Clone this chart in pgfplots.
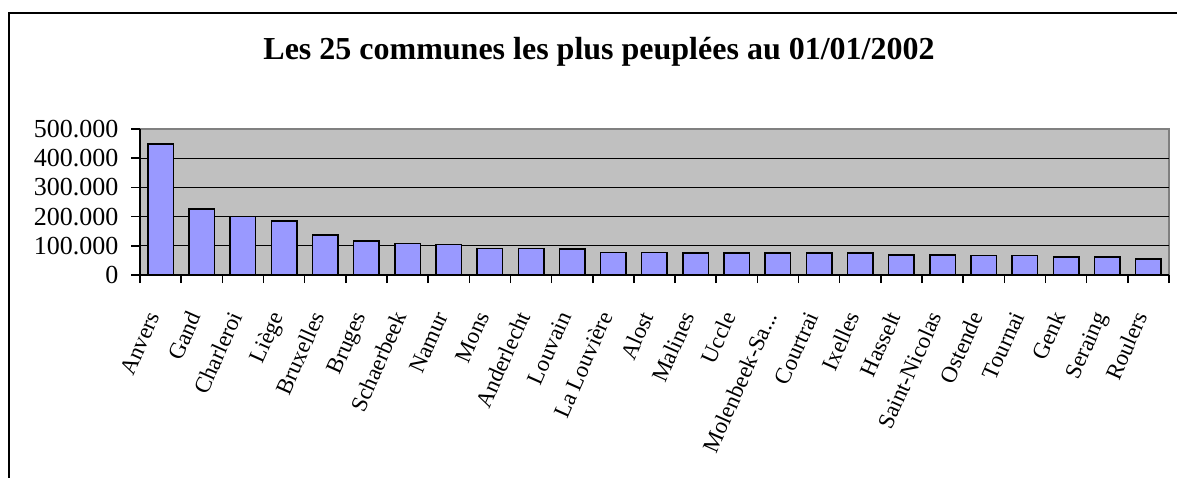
\documentclass[border=0pt]{standalone}
\usepackage{pgfplots}
\pgfplotsset{compat=1.18}
\usepackage{fontspec}
\setmainfont{Liberation Serif}
\definecolor{barblue}{HTML}{9999FF}
\definecolor{plotgray}{HTML}{C0C0C0}
\definecolor{bordergray}{HTML}{808080}
\begin{document}
\begin{tikzpicture}[x=1pt,y=1pt]
\useasboundingbox (0,0) rectangle (1177,477);
\clip (0,0) rectangle (1177,477);
\fill[white] (0,0) rectangle (1177,477);
\draw[line width=2.5pt] (9,-20) -- (9,464) -- (1200,464);
\node[font=\fontsize{32}{36}\selectfont\bfseries] at (599,425) {Les 25 communes les plus peuplées au 01/01/2002};
\begin{axis}[
  at={(140pt,202pt)}, anchor=south west,
  scale only axis, width=1029pt, height=146pt,
  xmin=-0.5, xmax=24.5, ymin=0, ymax=500000,
  axis x line*=bottom, axis y line*=left,
  axis line style={line width=1.5pt, black},
  axis background/.style={fill=plotgray, draw=bordergray, line width=1.5pt},
  tick align=outside,
  xtick={0,...,24},
  xticklabels={Anvers,Gand,Charleroi,Liège,Bruxelles,Bruges,Schaerbeek,Namur,Mons,Anderlecht,Louvain,La Louvière,Alost,Malines,Uccle,{Molenbeek-Sa{.}{.}{.}},Courtrai,Ixelles,Hasselt,Saint-Nicolas,Ostende,Tournai,Genk,Seraing,Roulers},
  minor xtick={-0.5,0.5,...,24.5},
  ytick={0,100000,200000,300000,400000,500000},
  yticklabels={0,100.000,200.000,300.000,400.000,500.000},
  minor ytick={100000,200000,300000,400000},
  yminorgrids,
  minor grid style={black, line width=1pt},
  major tick length=9pt,
  minor tick length=8pt,
  every tick/.style={black, line width=1.5pt},
  major x tick style={draw=none},
  minor y tick style={draw=none},
  yticklabel style={font=\fontsize{26}{28}\selectfont, xshift=-9pt},
  xticklabel style={font=\fontsize{23}{25}\selectfont, inner sep=0pt, xshift=0pt, yshift=-32pt, rotate=66, anchor=base east},
  scaled y ticks=false,
  clip=false,
]
\addplot[ybar, bar width=25.5pt, fill=barblue, draw=black, line width=1.5pt] coordinates {
(0,448000) (1,226000) (2,200500) (3,185000) (4,137500) (5,117000) (6,107500) (7,104500)
(8,90500) (9,90000) (10,88500) (11,76500) (12,77000) (13,76000) (14,75500) (15,75000)
(16,75000) (17,75500) (18,68500) (19,68500) (20,67500) (21,67500) (22,62500) (23,61000) (24,55000)
};
\end{axis}
\end{tikzpicture}
\end{document}
